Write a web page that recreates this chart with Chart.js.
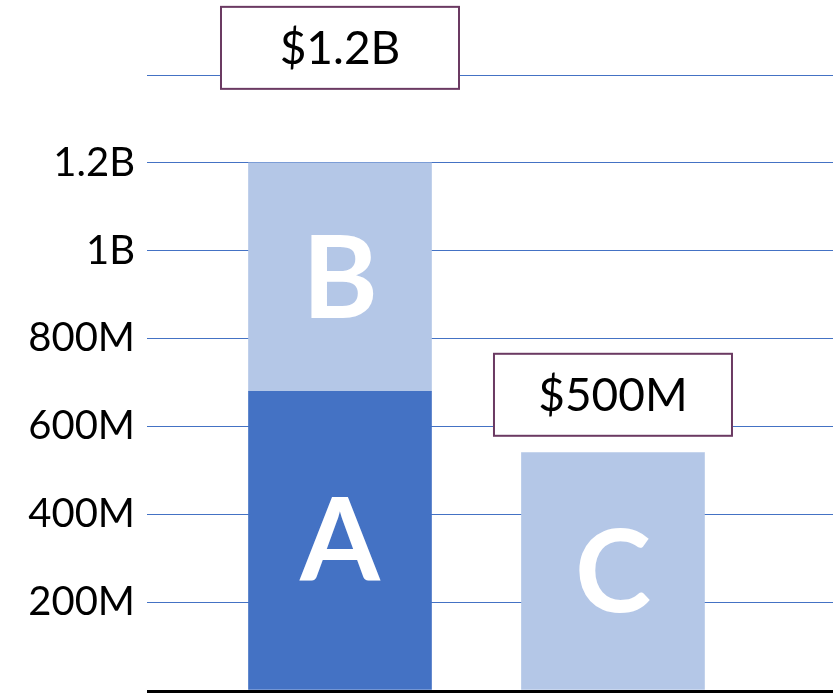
<!DOCTYPE html>
<html>
<head>
<meta charset="utf-8">
<script src="https://cdn.jsdelivr.net/npm/chart.js@4"></script>
<style>
  html, body { margin: 0; padding: 0; background: #fff; }
  #wrap { width: 833px; height: 693px; }
</style>
</head>
<body>
<div id="wrap"><canvas id="BarChart"></canvas></div>
<script>
// data
const columns = [1, 2];
const lowerValues = [680e6, 540e6];
const lowerLetters = ['A', 'C'];
const upperValues = [520e6, 0];
const upperLetters = ['B', ''];
const totalLabels = ['$1.2B', '$500M'];
const tickLabels = ['', '200M', '400M', '600M', '800M', '1B', '1.2B', ''];

const ctx = document.getElementById('BarChart');

function points(values){
  return values.map((v, i) => ({x: columns[i], y: v}));
}

// white letters inside bars, boxed totals above, black base line
const barText = {
  id: 'barText',
  afterDatasetsDraw(chart, args, opts){
    const c = chart.ctx;
    const y = chart.scales.y;
    const area = chart.chartArea;
    c.save();
    c.fillStyle = '#000';
    c.fillRect(area.left, y.getPixelForValue(0), area.right - area.left, 3);
    c.textAlign = 'center';
    c.textBaseline = 'alphabetic';
    chart.data.datasets.forEach((ds, di) => {
      const meta = chart.getDatasetMeta(di);
      meta.data.forEach((el, i) => {
        const letter = ds.letters[i];
        if (!letter) return;
        const cy = (el.y + el.base) / 2;
        c.fillStyle = '#fff';
        c.font = 'bold 115px Lato';
        c.fillText(letter, el.x, cy + 41);
      });
    });
    const lower = chart.getDatasetMeta(0).data;
    totalLabels.forEach((txt, i) => {
      const top = y.getPixelForValue(lowerValues[i] + upperValues[i]);
      const cx = lower[i].x;
      const cy = top - opts.offsets[i];
      const w = 238, h = 82;
      c.fillStyle = '#fff';
      c.fillRect(cx - w / 2, cy - h / 2, w, h);
      c.strokeStyle = '#6B3A62';
      c.lineWidth = 2;
      c.strokeRect(cx - w / 2, cy - h / 2, w, h);
      c.fillStyle = '#000';
      c.font = '46px Lato';
      c.fillText(txt, cx, cy + 16);
    });
    c.restore();
  }
};

new Chart(ctx, {
  type: 'bar',
  data: {
    datasets: [{
      data: points(lowerValues),
      letters: lowerLetters,
      backgroundColor: ['#4472C4', '#B4C7E7'],
      borderWidth: 0,
      barThickness: 183
    }, {
      data: points(upperValues),
      letters: upperLetters,
      backgroundColor: '#B4C7E7',
      borderWidth: 0,
      barThickness: 183
    }]
  },
  options: {
    responsive: true,
    maintainAspectRatio: false,
    animation: false,
    layout: {
      autoPadding: false,
      padding: {top: 75, bottom: 3, left: 0, right: 0}
    },
    plugins: {
      legend: {display: false},
      tooltip: {enabled: false},
      barText: {offsets: [115, 58]}
    },
    scales: {
      x: {
        type: 'linear',
        display: false,
        stacked: true,
        offset: false,
        min: 0.293,
        max: 2.806
      },
      y: {
        stacked: true,
        min: 0,
        max: 1.4e9,
        border: {display: false},
        grid: {
          drawTicks: false,
          color: '#4472C4',
          lineWidth: 1
        },
        ticks: {
          stepSize: 2e8,
          padding: 12,
          color: '#000',
          font: {family: 'Lato', size: 40},
          callback: (v, i) => tickLabels[i]
        },
        afterFit: s => {
          s.width = 147;
          s.paddingTop = 0;
          s.paddingBottom = 0;
        }
      }
    }
  },
  plugins: [barText]
});
</script>
</body>
</html>
